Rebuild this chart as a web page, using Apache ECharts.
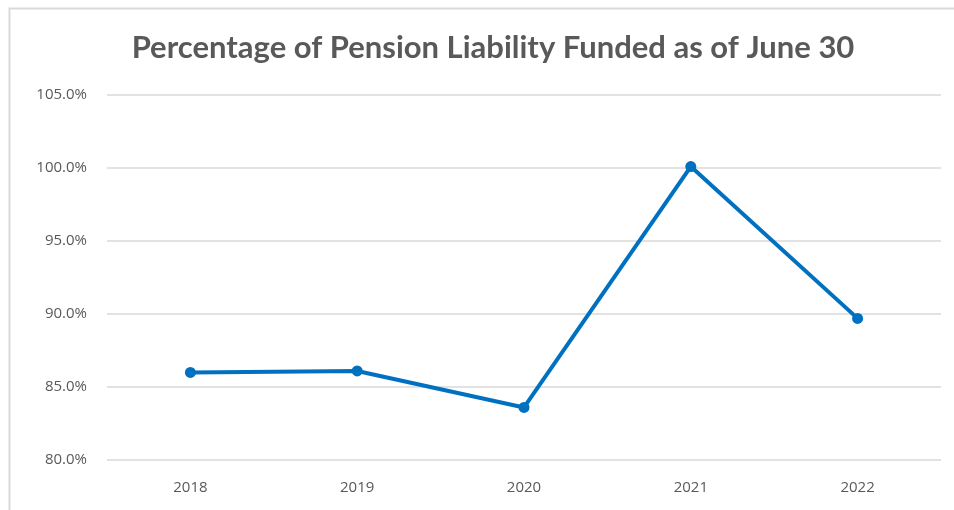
<!DOCTYPE html>
<html>
<head>
<meta charset="utf-8">
<script src="https://cdn.jsdelivr.net/npm/echarts@6/dist/echarts.min.js"></script>
<style>
  html, body { margin: 0; padding: 0; background: #fff; }
  #chart { width: 954px; height: 510px; }
</style>
</head>
<body>
<div id="chart"></div>
<script>
const years = ['2018', '2019', '2020', '2021', '2022']
const funded = [86.0, 86.1, 83.6, 100.1, 89.7]
const yMin = 80
const yMax = 105
const yStep = 5

const TEXT = '#595959'
const BLUE = '#0070c0'

const chart = echarts.init(document.getElementById('chart'), null, { renderer: 'canvas' })

chart.setOption({
  backgroundColor: '#fff',
  animation: false,
  title: {
    text: 'Percentage of Pension Liability Funded as of June 30',
    left: 488,
    textAlign: 'center',
    top: 27,
    textStyle: { color: TEXT, fontFamily: 'Lato', fontSize: 31, fontWeight: 'bold' }
  },
  graphic: [{
    type: 'rect',
    shape: { x: 9.5, y: 8.5, width: 980, height: 540 },
    style: { fill: 'none', stroke: '#d9d9d9', lineWidth: 2 },
    silent: true
  }],
  grid: { left: 107, right: 13, top: 95, bottom: 50 },
  xAxis: {
    type: 'category',
    data: years,
    boundaryGap: true,
    axisLine: { show: false },
    axisTick: { show: false },
    axisLabel: { color: TEXT, fontFamily: 'Open Sans', fontSize: 15, margin: 20 }
  },
  yAxis: {
    type: 'value',
    min: yMin,
    max: yMax,
    interval: yStep,
    axisLine: { show: false },
    axisTick: { show: false },
    axisLabel: {
      color: TEXT, fontFamily: 'Open Sans', fontSize: 15, margin: 20,
      formatter: v => v.toFixed(1) + '%'
    },
    splitLine: { lineStyle: { color: '#d9d9d9', width: 1.5 } }
  },
  series: [{
    type: 'line',
    data: funded,
    symbol: 'circle',
    symbolSize: 11,
    lineStyle: { color: BLUE, width: 4 },
    itemStyle: { color: BLUE }
  }]
})
</script>
</body>
</html>
